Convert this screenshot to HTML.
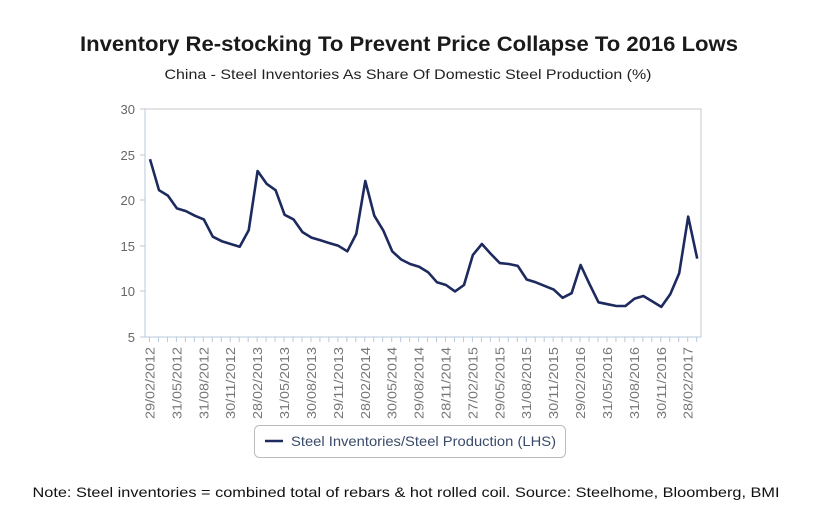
<!DOCTYPE html>
<html><head><meta charset="utf-8"><style>
html,body{margin:0;padding:0;background:#fff;}
svg{display:block;font-family:"Liberation Sans",sans-serif;}
</style></head><body>
<svg width="816" height="528" viewBox="0 0 816 528" xmlns="http://www.w3.org/2000/svg">
<text x="409" y="51" text-anchor="middle" font-size="21" font-weight="bold" fill="#1a1a1a" textLength="658" lengthAdjust="spacingAndGlyphs">Inventory Re-stocking To Prevent Price Collapse To 2016 Lows</text>
<text x="408" y="79" text-anchor="middle" font-size="14" fill="#222" textLength="487" lengthAdjust="spacingAndGlyphs">China - Steel Inventories As Share Of Domestic Steel Production (%)</text>
<rect x="145" y="109" width="556" height="228" fill="none" stroke="#c8c8c8" stroke-width="1"/>
<line x1="145" y1="109" x2="145" y2="337" stroke="#b8c8dc"/>
<line x1="145" y1="337" x2="701" y2="337" stroke="#b8c8dc"/>
<g fill="#666" font-size="13" text-anchor="end">
<text x="135" y="114">30</text><text x="135" y="160">25</text><text x="135" y="205">20</text><text x="135" y="251">15</text><text x="135" y="296">10</text><text x="135" y="342">5</text>
</g>
<g stroke="#b8c8dc">
<line x1="140" y1="109" x2="145" y2="109"/><line x1="140" y1="155" x2="145" y2="155"/><line x1="140" y1="200" x2="145" y2="200"/><line x1="140" y1="246" x2="145" y2="246"/><line x1="140" y1="291" x2="145" y2="291"/><line x1="140" y1="337" x2="145" y2="337"/>
</g>
<g id="ticks" stroke="#b8c8dc"></g>
<g id="labels" fill="#777" font-size="13"></g>
<polyline id="line" fill="none" stroke="#1c2a5e" stroke-width="2.6" stroke-linejoin="round"/>
<rect x="254.5" y="425.5" width="311" height="32" rx="5" fill="#fff" stroke="#bbb"/>
<line x1="265" y1="441" x2="283" y2="441" stroke="#1c2a5e" stroke-width="2.5"/>
<text x="291" y="446" font-size="14" fill="#3a4a6a" textLength="265" lengthAdjust="spacingAndGlyphs">Steel Inventories/Steel Production (LHS)</text>
<text x="406" y="497" text-anchor="middle" font-size="14" fill="#111" textLength="747" lengthAdjust="spacingAndGlyphs">Note: Steel inventories = combined total of rebars &amp; hot rolled coil. Source: Steelhome, Bloomberg, BMI</text>
</svg>
<script>
var v=[24.5,21.1,20.5,19.1,18.8,18.3,17.9,16.0,15.5,15.2,14.9,16.7,23.2,21.8,21.1,18.4,17.9,16.5,15.9,15.6,15.3,15.0,14.4,16.3,22.1,18.3,16.7,14.4,13.5,13.0,12.7,12.1,11.0,10.7,10.0,10.7,14.0,15.2,14.1,13.1,13.0,12.8,11.3,11.0,10.6,10.2,9.3,9.8,12.9,10.8,8.8,8.6,8.4,8.4,9.2,9.5,8.9,8.3,9.7,12.0,18.2,13.6];
var S=8.97;
var pts=v.map(function(d,i){return (150+S*i).toFixed(1)+","+(109+(30-d)*9.12).toFixed(1);}).join(" ");
document.getElementById("line").setAttribute("points",pts);
var ns="http://www.w3.org/2000/svg",t=document.getElementById("ticks"),L=document.getElementById("labels");
var labs=["29/02/2012","31/05/2012","31/08/2012","30/11/2012","28/02/2013","31/05/2013","30/08/2013","29/11/2013","28/02/2014","30/05/2014","29/08/2014","28/11/2014","27/02/2015","29/05/2015","31/08/2015","30/11/2015","29/02/2016","31/05/2016","31/08/2016","30/11/2016","28/02/2017"];
for(var i=0;i<62;i++){var x=145.5+S*i+4;var l=document.createElementNS(ns,"line");l.setAttribute("x1",x);l.setAttribute("x2",x);l.setAttribute("y1",337);l.setAttribute("y2",342);t.appendChild(l);}
labs.forEach(function(s,k){var x=150+S*3*k+4.5;var e=document.createElementNS(ns,"text");e.setAttribute("transform","translate("+x+",347) rotate(-90)");e.setAttribute("text-anchor","end");e.setAttribute("textLength","72");e.setAttribute("lengthAdjust","spacingAndGlyphs");e.textContent=s;L.appendChild(e);});
</script>
</body></html>
